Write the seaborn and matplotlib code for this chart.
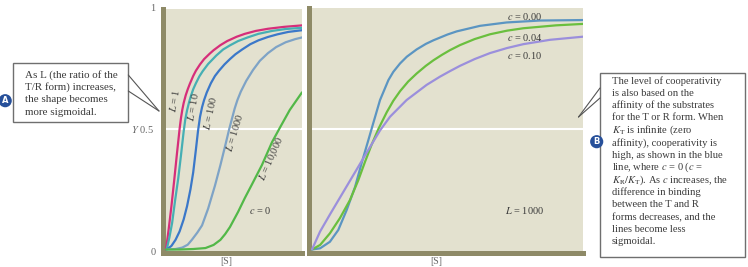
import matplotlib
matplotlib.use("Agg")
import matplotlib.pyplot as plt
from matplotlib.lines import Line2D
from matplotlib.patches import Rectangle
import numpy as np
import pandas as pd
import seaborn as sns

# ---------------- data ----------------
# Left panel: c = 0, varying L
L1_x = [0, 0.2, 0.4, 0.6, 0.8, 1.0, 1.1, 1.2, 1.3, 1.45, 1.6, 1.75, 2.0, 2.2, 2.5, 2.8, 3.2, 3.5,
        4.0, 4.5, 5.2, 5.8, 6.6, 7.5, 8.7, 10]
L1_y = [0, 0.085, 0.18, 0.285, 0.395, 0.50, 0.545, 0.58, 0.608, 0.64, 0.665, 0.687, 0.72, 0.742,
        0.768, 0.79, 0.812, 0.827, 0.848, 0.865, 0.883, 0.895, 0.907, 0.916, 0.924, 0.93]

L10_x = [0.05, 0.25, 0.45, 0.66, 0.9, 1.1, 1.3, 1.42, 1.55, 1.7, 1.85, 2.0, 2.2, 2.45, 2.7, 3.1,
         3.7, 4.2, 4.7, 5.3, 6.0, 6.8, 7.8, 8.8, 10]
L10_y = [0, 0.05, 0.11, 0.20, 0.295, 0.39, 0.49, 0.54, 0.578, 0.612, 0.64, 0.665, 0.69, 0.718,
         0.74, 0.77, 0.805, 0.83, 0.847, 0.865, 0.88, 0.895, 0.907, 0.915, 0.92]

L100_x = [0.05, 0.4, 0.7, 1.0, 1.3, 1.55, 1.8, 2.0, 2.2, 2.35, 2.5, 2.65, 2.8, 3.0, 3.3, 3.6, 3.9,
          4.3, 4.7, 5.1, 5.6, 6.2, 6.8, 7.5, 8.2, 9.0, 10]
L100_y = [0, 0.015, 0.04, 0.075, 0.125, 0.18, 0.25, 0.32, 0.415, 0.49, 0.55, 0.59, 0.62, 0.652,
          0.69, 0.72, 0.742, 0.768, 0.79, 0.81, 0.83, 0.852, 0.868, 0.882, 0.893, 0.903, 0.91]

L1000_x = [0.05, 0.7, 1.2, 1.6, 1.9, 2.3, 2.65, 3.1, 3.6, 4.0, 4.35, 4.65, 5.05, 5.25, 5.5, 5.9,
           6.4, 6.9, 7.5, 8.1, 8.8, 9.5, 10]
L1000_y = [0, 0.002, 0.008, 0.02, 0.04, 0.07, 0.10, 0.17, 0.265, 0.35, 0.43, 0.50, 0.585, 0.62,
           0.655, 0.70, 0.745, 0.783, 0.815, 0.84, 0.86, 0.873, 0.88]

L10000_x = [0, 1.0, 2.0, 2.9, 3.5, 4.0, 4.35, 4.7, 5.3, 5.8, 6.3, 7.05, 7.8, 8.4, 9.1, 10]
L10000_y = [0, 0, 0.002, 0.006, 0.019, 0.04, 0.064, 0.093, 0.156, 0.214, 0.268, 0.35, 0.446,
            0.508, 0.579, 0.652]

left_names = ["L = 1", "L = 10", "L = 100", "L = 1000", "L = 10,000"]

# Right panel: L = 1000, varying c
c000_x = [0, 0.3, 0.66, 0.97, 1.28, 1.59, 1.83, 2.08, 2.26, 2.51, 2.82, 3.0, 3.25, 3.5, 3.86, 4.2,
          4.48, 5.0, 5.34, 6.2, 7.18, 8.41, 10]
c000_y = [0, 0.005, 0.032, 0.081, 0.164, 0.26, 0.358, 0.454, 0.524, 0.62, 0.703, 0.737, 0.772,
          0.80, 0.83, 0.853, 0.868, 0.892, 0.905, 0.928, 0.942, 0.95, 0.952]

c004_x = [0, 0.3, 0.66, 1.03, 1.4, 1.71, 1.96, 2.2, 2.45, 2.76, 3.0, 3.25, 3.55, 3.86, 4.2, 4.48,
          4.8, 5.09, 5.46, 6.0, 6.57, 7.2, 7.8, 9.0, 10]
c004_y = [0, 0.019, 0.067, 0.13, 0.205, 0.288, 0.365, 0.435, 0.50, 0.57, 0.617, 0.657, 0.697,
          0.73, 0.762, 0.785, 0.808, 0.827, 0.848, 0.873, 0.893, 0.908, 0.918, 0.93, 0.936]

c010_x = [0, 0.3, 0.66, 1.03, 1.4, 1.77, 2.14, 2.51, 2.88, 3.49, 4.23, 4.72, 5.09, 5.46, 6.0, 6.57,
          7.2, 7.8, 8.78, 10]
c010_y = [0, 0.075, 0.145, 0.215, 0.285, 0.355, 0.425, 0.494, 0.551, 0.62, 0.683, 0.717, 0.74,
          0.762, 0.79, 0.815, 0.836, 0.852, 0.87, 0.883]

right_names = ["c = 0.00", "c = 0.04", "c = 0.10"]

# ---------------- styles ----------------
BG = "#e3e1cf"
OLIVE = "#8e8a67"
left_colors = {"L = 1": "#d62e7a", "L = 10": "#46afb4", "L = 100": "#3b78c9",
               "L = 1000": "#7ea3c6", "L = 10,000": "#52b848"}
right_colors = {"c = 0.00": "#5b95c2", "c = 0.04": "#6abf3e", "c = 0.10": "#9b8fdc"}
TXT = "#3a3a3a"

sns.set_style("white", rc={"axes.facecolor": BG})
plt.rcParams["font.family"] = ["Liberation Serif", "DejaVu Serif"]
plt.rcParams["mathtext.fontset"] = "stix"

W, H = 748, 267
def fx(px):
    return px / W
def fy(py):
    return 1 - py / H

fig = plt.figure(figsize=(7.48, 2.67), dpi=100)
fig.patch.set_facecolor("white")

axL = fig.add_axes([fx(163), fy(253), (302 - 163) / W, (253 - 9) / H])
axR = fig.add_axes([fx(308.5), fy(252.5), (583 - 308.5) / W, (252.5 - 8) / H])

left_df = pd.concat([
    pd.DataFrame({"S": xs, "Y": ys, "curve": n})
    for n, xs, ys in zip(left_names,
                         [L1_x, L10_x, L100_x, L1000_x, L10000_x],
                         [L1_y, L10_y, L100_y, L1000_y, L10000_y])
])
right_df = pd.concat([
    pd.DataFrame({"S": xs, "Y": ys, "curve": n})
    for n, xs, ys in zip(right_names, [c000_x, c004_x, c010_x], [c000_y, c004_y, c010_y])
])

for ax in (axL, axR):
    ax.axhline(0.5, color="white", lw=1.5, zorder=1)

sns.lineplot(data=left_df, x="S", y="Y", hue="curve", palette=left_colors,
             estimator=None, sort=False, legend=False, ax=axL, linewidth=1.6, zorder=3)
sns.lineplot(data=right_df, x="S", y="Y", hue="curve", palette=right_colors,
             estimator=None, sort=False, legend=False, ax=axR, linewidth=1.6, zorder=3)
for ax in (axL, axR):
    for ln in ax.get_lines():
        ln.set_solid_joinstyle("round")
        ln.set_solid_capstyle("round")

axL.set_xlim(-0.22, 10)
axL.set_ylim(-0.0145, 0.998)
axR.set_xlim(-0.129, 10)
axR.set_ylim(-0.0124, 1.002)

for ax in (axL, axR):
    ax.set_xticks([])
    ax.set_yticks([])
    ax.set_xlabel("")
    ax.set_ylabel("")
    for s in ("top", "right"):
        ax.spines[s].set_visible(False)
    for s in ("left", "bottom"):
        ax.spines[s].set_color(OLIVE)
        ax.spines[s].set_linewidth(3.6)

# curve labels, left panel
fs = 7.5
axL.text(0.66, 0.62, "$L$ = 1", rotation=80, ha="center", va="center", fontsize=fs, color=TXT)
axL.text(2.0, 0.59, "$L$ = 10", rotation=80, ha="center", va="center", fontsize=fs, color=TXT)
axL.text(3.28, 0.565, "$L$ = 100", rotation=78, ha="center", va="center", fontsize=fs, color=TXT)
axL.text(5.0, 0.483, "$L$ = 1000", rotation=73, ha="center", va="center", fontsize=fs, color=TXT)
axL.text(7.82, 0.374, "$L$ = 10,000", rotation=66, ha="center", va="center", fontsize=fs, color=TXT)
axL.text(6.91, 0.161, "$c$ = 0", ha="center", va="center", fontsize=fs, color=TXT)

# curve labels, right panel
axR.text(7.86, 0.966, "$c$ = 0.00", ha="center", va="center", fontsize=fs, color=TXT)
axR.text(7.86, 0.88, "$c$ = 0.04", ha="center", va="center", fontsize=fs, color=TXT)
axR.text(7.86, 0.803, "$c$ = 0.10", ha="center", va="center", fontsize=fs, color=TXT)
axR.text(7.86, 0.161, "$L$ = 1000", ha="center", va="center", fontsize=fs, color=TXT)

# axis labels
fig.text(fx(153), fy(8.5), "1", ha="center", va="center", fontsize=7.5, color="#666666")
fig.text(fx(153.5), fy(129), "$Y$ 0.5", ha="right", va="center", fontsize=7.5, color="#666666")
fig.text(fx(153), fy(252.5), "0", ha="center", va="center", fontsize=7.5, color="#666666")
fig.text(fx(226.7), fy(261), "[S]", ha="center", va="center", fontsize=7, color="#666666")
fig.text(fx(436.7), fy(261.5), "[S]", ha="center", va="center", fontsize=7, color="#666666")

# callout A
fig.add_artist(Rectangle((fx(13.3), fy(121.7)), (128.3 - 13.3) / W, (121.7 - 63.3) / H,
                         transform=fig.transFigure, fc="white", ec="#6f6f6f", lw=1.0))
for y0 in (75, 91):
    fig.add_artist(Line2D([fx(128.3), fx(159)], [fy(y0), fy(111)], transform=fig.transFigure,
                          color="#555555", lw=0.8))
A_lines = ["As L (the ratio of the", "T/R form) increases,", "the shape becomes", "more sigmoidal."]
for i, t in enumerate(A_lines):
    fig.text(fx(25), fy(75 + 12.4 * i), t, ha="left", va="center", fontsize=7.9, color=TXT)
fig.text(fx(5.2), fy(100.7), "A", ha="center", va="center", fontsize=6, color="white",
         fontweight="bold", family="DejaVu Sans",
         bbox=dict(boxstyle="circle,pad=0.25", fc="#27509a", ec="none"))

# callout B
fig.add_artist(Rectangle((fx(600), fy(256.7)), (745 - 600) / W, (256.7 - 73.3) / H,
                         transform=fig.transFigure, fc="white", ec="#6f6f6f", lw=1.0))
for y0 in (88, 98):
    fig.add_artist(Line2D([fx(600), fx(578.5)], [fy(y0), fy(117)], transform=fig.transFigure,
                          color="#555555", lw=0.8))
B_lines = ["The level of cooperativity",
           "is also based on the",
           "affinity of the substrates",
           "for the T or R form. When",
           r"$K_\mathrm{T}$ is infinite (zero",
           "affinity), cooperativity is",
           "high, as shown in the blue",
           "line, where $c$ = 0 ($c$ =",
           r"$K_\mathrm{R}/K_\mathrm{T}$). As $c$ increases, the",
           "difference in binding",
           "between the T and R",
           "forms decreases, and the",
           "lines become less",
           "sigmoidal."]
for i, t in enumerate(B_lines):
    fig.text(fx(611.7), fy(80.7 + 12.4 * i), t, ha="left", va="center", fontsize=7.6, color=TXT)
fig.text(fx(596.7), fy(141.7), "B", ha="center", va="center", fontsize=6, color="white",
         fontweight="bold", family="DejaVu Sans",
         bbox=dict(boxstyle="circle,pad=0.25", fc="#27509a", ec="none"))

fig.savefig("out.png", dpi=100)
